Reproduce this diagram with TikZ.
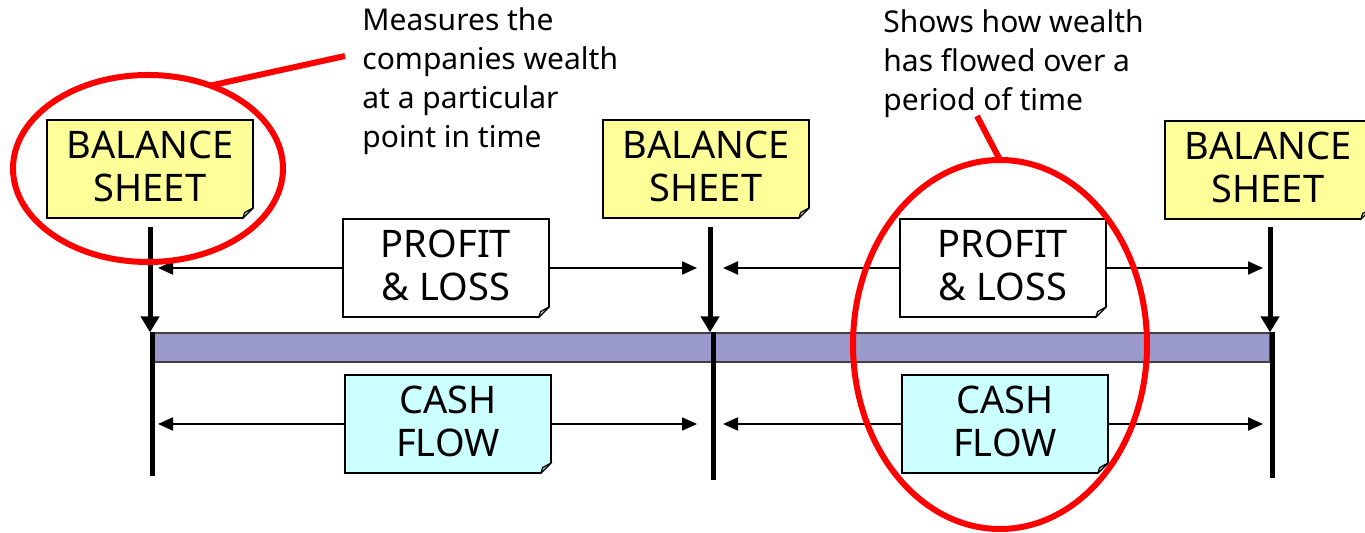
\documentclass[tikz,border=0pt]{standalone}
\usepackage{fontspec}
\setmainfont{Noto Sans}
\usetikzlibrary{arrows.meta,shapes.geometric,calc}

\definecolor{noteyellow}{HTML}{FFFF99}
\definecolor{notecyan}{HTML}{CCFFFF}
\definecolor{barblue}{HTML}{9999CC}

\begin{document}
\begin{tikzpicture}[x=0.5pt,y=-0.5pt,
  note/.style={draw=black, line width=0.6pt, fill=#1, minimum width=103pt,
    minimum height=49pt, inner sep=0pt, align=center, text depth=3pt,
    font=\fontsize{19}{21.5}\selectfont},
  timeline/.style={line width=2.5pt},
  drop/.style={timeline, -{Triangle[length=8pt,width=9pt]}},
  span/.style={line width=1pt, -{Triangle[length=7.5pt,width=6.5pt]}},
  ring/.style={draw=red, line width=3pt, ellipse, inner sep=0pt, outer sep=0pt},
  leader/.style={draw=red, line width=3pt},
  remark/.style={anchor=north west, inner sep=0pt, align=left,
    font=\fontsize{15}{19.5}\selectfont}
]
\useasboundingbox (0,0) rectangle (1365,533);

% notes
\node[note=noteyellow] (bs1) at (150,169) {BALANCE\\SHEET};
\node[note=noteyellow] (bs2) at (706,169) {BALANCE\\SHEET};
\node[note=noteyellow] (bs3) at (1268,170) {BALANCE\\SHEET};
\node[note=white] (pl1) at (446,268) {PROFIT\\\& LOSS};
\node[note=white] (pl2) at (1003,268) {PROFIT\\\& LOSS};
\node[note=notecyan] (cf1) at (448,424) {CASH\\FLOW};
\node[note=notecyan] (cf2) at (1005,424) {CASH\\FLOW};

% folded corners
\foreach \n/\c in {bs1/noteyellow!60!gray, bs2/noteyellow!60!gray, bs3/noteyellow!60!gray,
                   pl1/white!70!gray, pl2/white!70!gray, cf1/notecyan!60!gray, cf2/notecyan!60!gray}{
  \fill[white] ($(\n.south east)+(2,-13)$) -- ($(\n.south east)+(2,2)$) -- ($(\n.south east)+(-13,2)$) -- cycle;
  \draw[line width=0.6pt, line join=round, fill=\c] ($(\n.south east)+(0,-11)$) -- ($(\n.south east)+(-11,0)$)
     -- ($(\n.south east)+(-9,-6)$) -- cycle;
  \draw[line width=0.6pt] ($(\n.south east)+(0,-11)$) -- ($(\n.south east)+(0,-20)$);
  \draw[line width=0.6pt] ($(\n.south east)+(-11,0)$) -- ($(\n.south east)+(-20,0)$);
}

% time bar
\node[draw=black!75, line width=0.6pt, fill=barblue, minimum width=559pt,
      minimum height=14.5pt, inner sep=0pt] (bar) at (711,347.5) {};

% balance sheet dates
\coordinate (top1) at (150,227);
\coordinate (top2) at (710,227);
\coordinate (top3) at (1270,227);
\coordinate (foot1) at (152,476);
\coordinate (foot2) at (713,480);
\coordinate (foot3) at (1272,478);
\foreach \i in {1,2,3}{
  \draw[drop] (top\i) -- (top\i |- bar.north);
  \draw[timeline] (foot\i |- bar.north) -- (foot\i);
}

% period arrows
\coordinate (tipA) at (158,0);
\coordinate (tipB) at (697,0);
\coordinate (tipC) at (723,0);
\coordinate (tipD) at (1263,0);
\draw[span] (pl1.west) -- (tipA |- pl1.west);
\draw[span] (pl1.east) -- (tipB |- pl1.east);
\draw[span] (pl2.west) -- (tipC |- pl2.west);
\draw[span] (pl2.east) -- (tipD |- pl2.east);
\draw[span] (cf1.west) -- (tipA |- cf1.west);
\draw[span] (cf1.east) -- (tipB |- cf1.east);
\draw[span] (cf2.west) -- (tipC |- cf2.west);
\draw[span] (cf2.east) -- (tipD |- cf2.east);

% highlights
\node[ring, minimum width=135pt, minimum height=93.5pt] (ring1) at (148,168.5) {};
\node[ring, minimum width=147pt, minimum height=184.5pt] (ring2) at (1000,344.5) {};

\node[remark] (note1) at (362,7) {Measures the\\companies wealth\\at a particular\\point in time};
\node[remark] (note2) at (883,9) {Shows how wealth\\has flowed over a\\period of time};

\coordinate (lead1) at (345,56);
\coordinate (lead2) at (977,116);
\draw[leader] (ring1.53) -- (lead1);
\draw[leader] (ring2.north) -- (lead2);
\end{tikzpicture}
\end{document}
